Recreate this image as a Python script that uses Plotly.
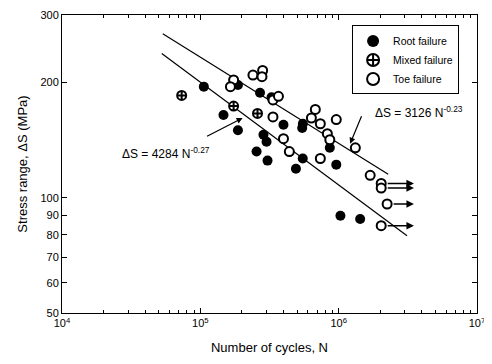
import numpy as np
import plotly.graph_objects as go

# ---- data ----
root_N = [1.06e5, 1.47e5, 1.87e5, 1.87e5, 2.70e5, 3.27e5, 3.99e5, 2.86e5, 3.01e5,
          2.55e5, 3.06e5, 5.51e5, 5.45e5, 5.50e5, 4.91e5, 8.63e5, 9.61e5, 1.03e6, 1.43e6]
root_S = [195, 164.5, 197, 150, 188, 183, 155, 146, 140,
          132, 125, 156, 152, 126.6, 119, 135, 122, 89.7, 88]

mixed_N = [7.33e4, 1.74e5, 2.59e5]
mixed_S = [185, 173.5, 166]

toe_N = [1.74e5, 1.65e5, 2.40e5, 2.82e5, 2.79e5, 3.35e5, 3.67e5, 3.35e5, 6.78e5,
         6.35e5, 7.37e5, 9.61e5, 8.28e5, 8.63e5, 3.99e5, 4.40e5, 7.37e5, 1.32e6,
         1.69e6, 2.03e6, 2.03e6, 2.24e6, 2.03e6]
toe_S = [203, 195, 209, 215, 207, 180, 184, 162.5, 170,
         161.5, 156, 160, 147, 141.7, 142.6, 132, 126.6, 135,
         114.4, 109, 106, 96.3, 84.5]

# run-outs (toe failures that did not fail): start N, stress, arrow end N
runout_N = [2.03e6, 2.03e6, 2.24e6, 2.03e6]
runout_S = [109, 106, 96.3, 84.5]
runout_end_N = 3.5e6

# fitted lines as drawn (endpoints)
upper_line_N = [5.35e4, 2.28e6]
upper_line_S = [268, 115.1]
lower_line_N = [5.26e4, 3.12e6]
lower_line_S = [237.9, 79.6]

upper_eq = "ΔS = 3126 N<sup>-0.23</sup>"
lower_eq = "ΔS = 4284 N<sup>-0.27</sup>"

x_tickvals = [1e4, 1e5, 1e6, 1e7]
x_ticktext = ["10<sup>4</sup>", "10<sup>5</sup>", "10<sup>6</sup>", "10<sup>7</sup>"]
y_tickvals = [50, 60, 70, 80, 90, 100, 200, 300]

FONT = "Liberation Sans, Arial, sans-serif"

fig = go.Figure()

fig.add_trace(go.Scatter(x=upper_line_N, y=upper_line_S, mode="lines",
                         line=dict(color="black", width=1.2), showlegend=False, hoverinfo="skip"))
fig.add_trace(go.Scatter(x=lower_line_N, y=lower_line_S, mode="lines",
                         line=dict(color="black", width=1.2), showlegend=False, hoverinfo="skip"))

fig.add_trace(go.Scatter(x=root_N, y=root_S, mode="markers", name="Root failure",
                         marker=dict(symbol="circle", size=10, color="black",
                                     line=dict(color="black", width=0))))
fig.add_trace(go.Scatter(x=mixed_N, y=mixed_S, mode="markers", name="Mixed failure",
                         marker=dict(symbol="circle-cross", size=9, color="white",
                                     line=dict(color="black", width=2))))
fig.add_trace(go.Scatter(x=toe_N, y=toe_S, mode="markers", name="Toe failure",
                         marker=dict(symbol="circle", size=9, color="white",
                                     line=dict(color="black", width=2))))

annotations = []
for n, s in zip(runout_N, runout_S):
    annotations.append(dict(x=np.log10(runout_end_N), y=np.log10(s),
                            ax=np.log10(n), ay=np.log10(s), axref="x", ayref="y",
                            xref="x", yref="y", text="", showarrow=True,
                            arrowhead=2, arrowsize=1, arrowwidth=1.5, arrowcolor="black",
                            startstandoff=5))

# equation labels with arrows
annotations.append(dict(x=np.log10(1.21e6), y=np.log10(138.4), xref="x", yref="y",
                        ax=12, ay=-29, text="", showarrow=True, arrowhead=2,
                        arrowsize=1, arrowwidth=1.2, arrowcolor="black"))
annotations.append(dict(x=np.log10(3.81e6), y=np.log10(167.4), xref="x", yref="y",
                        text=upper_eq, showarrow=False,
                        font=dict(family=FONT, size=12, color="black")))
annotations.append(dict(x=np.log10(2.02e5), y=np.log10(161.5), xref="x", yref="y",
                        ax=-37, ay=19, text="", showarrow=True, arrowhead=2,
                        arrowsize=1, arrowwidth=1.2, arrowcolor="black"))
annotations.append(dict(x=np.log10(5.62e4), y=np.log10(131.2), xref="x", yref="y",
                        text=lower_eq, showarrow=False,
                        font=dict(family=FONT, size=12, color="black")))

# page body has an 8px margin, so the figure is 8px smaller than the window
fig.update_layout(
    width=484, height=356,
    margin=dict(l=54, r=15, t=7, b=51, autoexpand=False),
    paper_bgcolor="white", plot_bgcolor="white",
    font=dict(family=FONT, size=12, color="black"),
    annotations=annotations,
    legend=dict(x=0.699, y=0.965, xanchor="left", yanchor="top",
                bgcolor="white", bordercolor="black", borderwidth=1,
                font=dict(family=FONT, size=10.5, color="black"),
                tracegroupgap=0, itemsizing="constant", itemwidth=30),
    showlegend=True,
)

minor_x = [m * 10 ** e for e in range(4, 7) for m in range(2, 10)]

fig.update_xaxes(type="log", range=[4, 7], tickvals=x_tickvals, ticktext=x_ticktext,
                 ticks="inside", ticklen=5, tickcolor="black", showgrid=False, zeroline=False,
                 showline=True, linecolor="black", linewidth=1, mirror="ticks",
                 automargin=False, ticklabeloverflow="allow",
                 minor=dict(tickvals=minor_x, ticks="inside", ticklen=3, tickcolor="black",
                            showgrid=False),
                 tickfont=dict(size=11),
                 title=dict(text="Number of cycles, N", font=dict(size=13), standoff=14))
fig.update_yaxes(type="log", range=[np.log10(50), np.log10(300)], tickvals=y_tickvals,
                 ticktext=[str(v) for v in y_tickvals],
                 ticks="inside", ticklen=5, tickcolor="black", showgrid=False, zeroline=False,
                 showline=True, linecolor="black", linewidth=1, mirror="ticks",
                 automargin=False, ticklabeloverflow="allow",
                 tickfont=dict(size=11),
                 title=dict(text="Stress range, ΔS (MPa)", font=dict(size=13), standoff=9))

fig.write_html("out.html")
